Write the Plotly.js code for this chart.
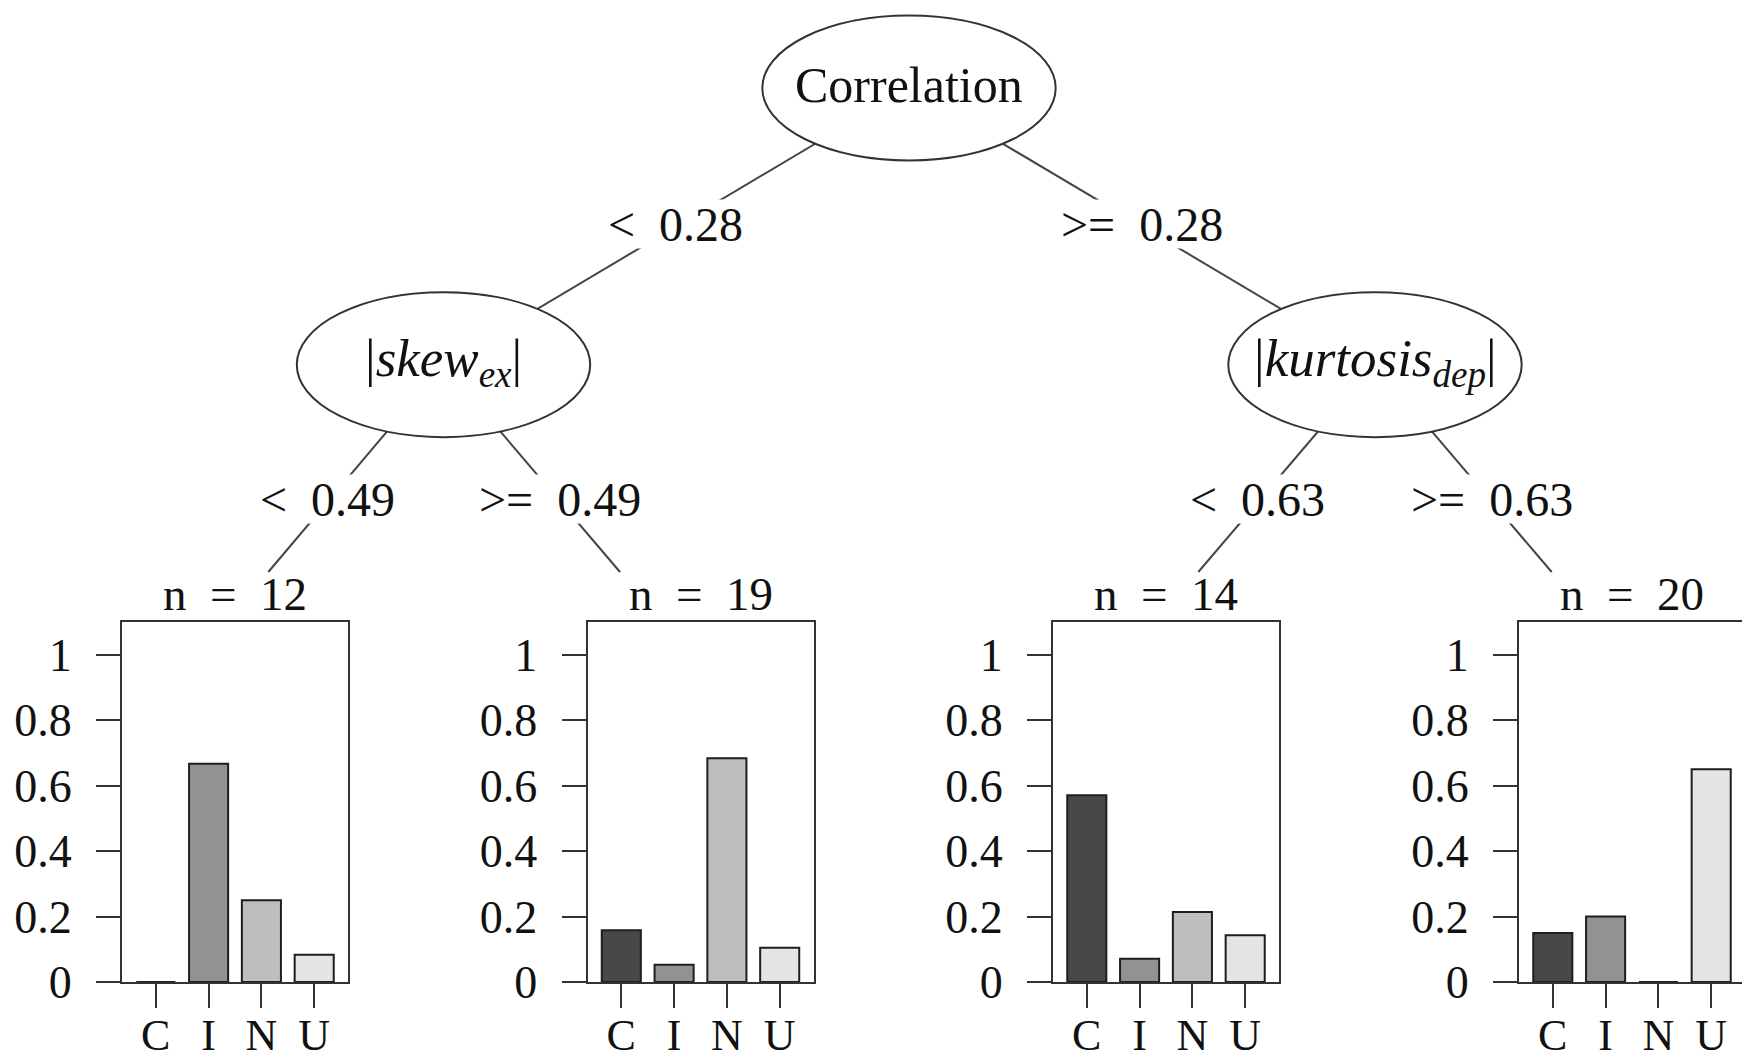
<!DOCTYPE html>
<html><head><meta charset="utf-8">
<script src="https://cdn.plot.ly/plotly-3.0.1.min.js"></script>
<style>html,body{margin:0;padding:0;background:#fff;overflow:hidden}#chart{width:1742px;height:1062px}</style>
</head><body><div id="chart"></div>
<script>
// ---- data ----
const classes = ['C', 'I', 'N', 'U'];
const nodeNames = ['Correlation', '|<i>skew</i><sub><i>ex</i></sub>|', '|<i>kurtosis</i><sub><i>dep</i></sub>|'];
const splitLabels = ['< 0.28', '>= 0.28', '< 0.49', '>= 0.49', '< 0.63', '>= 0.63'];
const leafSizes = [12, 19, 14, 20];
const leaf1 = [0.000, 0.667, 0.250, 0.083];
const leaf2 = [0.158, 0.053, 0.684, 0.105];
const leaf3 = [0.571, 0.071, 0.214, 0.143];
const leaf4 = [0.150, 0.200, 0.000, 0.650];
const yTickVals = [0, 0.2, 0.4, 0.6, 0.8, 1];
const yTickText = ['0', '0.2', '0.4', '0.6', '0.8', '1'];

// ---- styles / layout geometry ----
const barColors = ['#484848', '#929292', '#bebebe', '#e4e4e4'];
const FONT = 'Liberation Serif, Times New Roman, serif';
const W = 1742, H = 1062;
const px = x => x / W;
const py = y => 1 - y / H;
const panelLeft = [122, 587.5, 1053, 1519];
const panelW = 226, panelTop = 622, panelBottom = 982;
const unit = 52.8, pad = 0.64;
const nodeC = [[909, 88], [443.5, 364.7], [1375, 364.7]];
const rx = 146.7, ry = 72.5;
const leafEnd = [[268.3, 572], [620, 572], [1198.3, 572], [1551.7, 572]];
// edges: [fromPoint, toPoint, labelY]
const edges = [
  [nodeC[0], nodeC[1], 226.5],
  [nodeC[0], nodeC[2], 226.5],
  [nodeC[1], leafEnd[0], 502],
  [nodeC[1], leafEnd[1], 502],
  [nodeC[2], leafEnd[2], 502],
  [nodeC[2], leafEnd[3], 502]
];
const SP = '\u2002';

const leaves = [leaf1, leaf2, leaf3, leaf4];
const traces = leaves.map((vals, i) => ({
  type: 'bar',
  x: classes,
  y: vals,
  xaxis: i ? 'x' + (i + 1) : 'x',
  yaxis: i ? 'y' + (i + 1) : 'y',
  width: 0.74,
  marker: { color: barColors, line: { color: '#1e1e1e', width: 2 } },
  hoverinfo: 'skip',
  showlegend: false
}));

const layout = {
  width: W, height: H,
  margin: { l: 0, r: 0, t: 0, b: 0, pad: 0 },
  paper_bgcolor: '#fff', plot_bgcolor: '#fff',
  showlegend: false,
  font: { family: FONT, color: '#111' },
  shapes: [], annotations: []
};

panelLeft.forEach((left, i) => {
  const right = Math.min(left + panelW, W);
  const sfx = i ? String(i + 1) : '';
  layout['xaxis' + sfx] = {
    domain: [px(left), px(right)],
    range: [-pad, -pad + (right - left) / unit],
    type: 'category', categoryarray: classes,
    tickmode: 'array', tickvals: classes, ticktext: classes,
    anchor: 'y' + sfx,
    showline: true, mirror: true, linecolor: '#333', linewidth: 2,
    ticks: 'outside', ticklen: 24, tickwidth: 2, tickcolor: '#333',
    ticklabelstandoff: -11,
    showgrid: false, zeroline: false, fixedrange: true,
    tickfont: { family: FONT, size: 44, color: '#111' }
  };
  layout['yaxis' + sfx] = {
    domain: [py(panelBottom), py(panelTop)],
    range: [0, 1.1],
    anchor: 'x' + sfx,
    tickmode: 'array', tickvals: yTickVals, ticktext: yTickText,
    showline: true, mirror: i < 3, linecolor: '#333', linewidth: 2,
    ticks: 'outside', ticklen: 24, tickwidth: 2, tickcolor: '#333',
    ticklabelstandoff: 15,
    showgrid: false, zeroline: false, fixedrange: true,
    tickfont: { family: FONT, size: 46, color: '#111' }
  };
  layout.annotations.push({
    xref: 'paper', yref: 'paper',
    x: px(left + panelW / 2), y: py(594),
    text: 'n' + SP + '=' + SP + leafSizes[i],
    showarrow: false, xanchor: 'center', yanchor: 'middle',
    font: { family: FONT, size: 47, color: '#111' }
  });
});

// edges (lines)
edges.forEach(([a, b]) => {
  layout.shapes.push({
    type: 'line', xref: 'paper', yref: 'paper',
    x0: px(a[0]), y0: py(a[1]), x1: px(b[0]), y1: py(b[1]),
    line: { color: '#444', width: 2 }
  });
});
// inner nodes (ellipses)
nodeC.forEach(([cx, cy]) => {
  layout.shapes.push({
    type: 'circle', xref: 'paper', yref: 'paper',
    x0: px(cx - rx), x1: px(cx + rx), y0: py(cy + ry), y1: py(cy - ry),
    fillcolor: '#fff', line: { color: '#333', width: 2 }
  });
});
const nodeFont = [50, 53, 53];
nodeC.forEach(([cx, cy], i) => {
  layout.annotations.push({
    xref: 'paper', yref: 'paper', x: px(cx), y: py(cy - 3),
    text: nodeNames[i], showarrow: false, xanchor: 'center', yanchor: 'middle',
    font: { family: FONT, size: nodeFont[i], color: '#111' }
  });
});
// split labels on edges, with white box masking the line
const esc = s => s.replace(/</g, '&lt;').replace(/>/g, '&gt;').replace(/ /g, SP);
edges.forEach(([a, b, ly], i) => {
  const t = (ly - a[1]) / (b[1] - a[1]);
  const lx = a[0] + t * (b[0] - a[0]);
  layout.annotations.push({
    xref: 'paper', yref: 'paper', x: px(lx), y: py(ly - 3),
    text: esc(splitLabels[i]), showarrow: false, xanchor: 'center', yanchor: 'middle',
    bgcolor: '#fff', borderpad: 2, height: 44,
    font: { family: FONT, size: 48, color: '#111' }
  });
});

Plotly.newPlot('chart', traces, layout, { displayModeBar: false, staticPlot: true });
</script>
</body></html>
